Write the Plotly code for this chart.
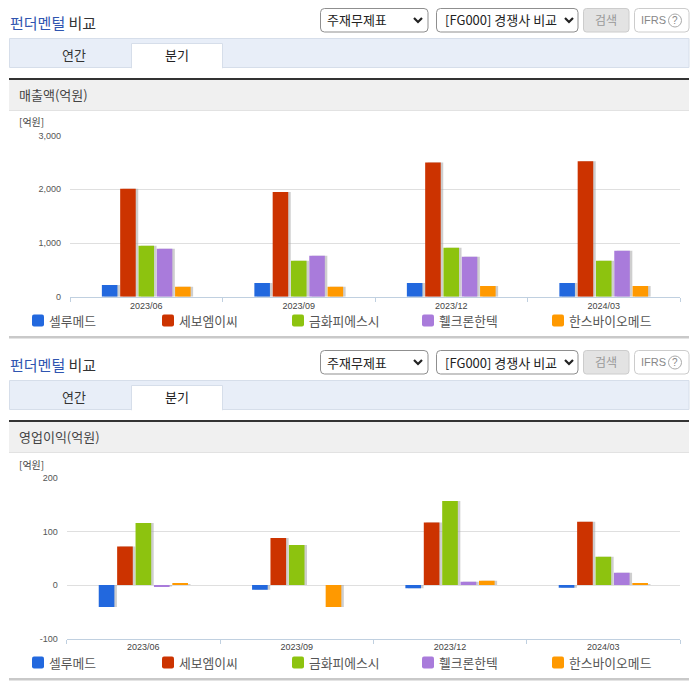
import plotly.graph_objects as go

W, H = 696, 684
FONT = "Noto Sans CJK KR"
LATIN = "Liberation Sans"

periods = ["2023/06", "2023/09", "2023/12", "2024/03"]
companies = ["셀루메드", "세보엠이씨", "금화피에스시", "휄크론한텍", "한스바이오메드"]
colors = ["#2268DE", "#CC3300", "#8DC30F", "#A97BDB", "#FF9900"]

sales_celumed = [220, 255, 255, 255]
sales_sebo = [2010, 1950, 2500, 2520]
sales_kumhwa = [950, 670, 910, 670]
sales_hlb = [895, 765, 745, 855]
sales_hans = [185, 185, 200, 200]

op_celumed = [-41, -9, -6, -5]
op_sebo = [72, 88, 117, 118]
op_kumhwa = [116, 75, 157, 53]
op_hlb = [-3, 0, 6, 23]
op_hans = [2, -41, 8, 2]

sales = [sales_celumed, sales_sebo, sales_kumhwa, sales_hlb, sales_hans]
profit = [op_celumed, op_sebo, op_kumhwa, op_hlb, op_hans]

sales_ticks = [0, 1000, 2000, 3000]
sales_ticktext = ["0", "1,000", "2,000", "3,000"]
profit_ticks = [-100, 0, 100, 200]
profit_ticktext = ["-100", "0", "100", "200"]

fig = go.Figure()
shapes, annotations = [], []


def px(x):
    return x / W


def py(y):
    return 1 - y / H


def rect(x0, y0, x1, y1, fill="rgba(0,0,0,0)", line=None, lw=1):
    shapes.append(dict(type="rect", xref="paper", yref="paper", layer="below",
                       x0=px(x0), x1=px(x1), y0=py(y1), y1=py(y0), fillcolor=fill,
                       line=dict(color=line or "rgba(0,0,0,0)", width=lw if line else 0)))


def rrect(x0, y0, x1, y1, r, fill="rgba(0,0,0,0)", line=None, lw=1):
    p = (f"M {px(x0 + r)} {py(y0)} L {px(x1 - r)} {py(y0)} Q {px(x1)} {py(y0)} {px(x1)} {py(y0 + r)} "
         f"L {px(x1)} {py(y1 - r)} Q {px(x1)} {py(y1)} {px(x1 - r)} {py(y1)} "
         f"L {px(x0 + r)} {py(y1)} Q {px(x0)} {py(y1)} {px(x0)} {py(y1 - r)} "
         f"L {px(x0)} {py(y0 + r)} Q {px(x0)} {py(y0)} {px(x0 + r)} {py(y0)} Z")
    shapes.append(dict(type="path", xref="paper", yref="paper", layer="below", path=p, fillcolor=fill,
                       line=dict(color=line or "rgba(0,0,0,0)", width=lw if line else 0)))


def text(x, y, s, size=12, color="#333333", anchor="left", family=FONT):
    annotations.append(dict(xref="paper", yref="paper", x=px(x), y=py(y), text=s, showarrow=False,
                            xanchor=anchor, yanchor="middle", align=anchor,
                            font=dict(size=size, color=color, family=family),
                            borderpad=0, borderwidth=0))


def chevron(cx, cy):
    p = f"M {px(cx - 4)} {py(cy - 2)} L {px(cx)} {py(cy + 2)} L {px(cx + 4)} {py(cy - 2)}"
    shapes.append(dict(type="path", xref="paper", yref="paper", layer="below", path=p,
                       line=dict(color="#222222", width=2.2)))


def chrome(dy, heading, unit_y):
    text(10, 23 + dy, '<span style="color:#2F55B0">펀더멘털</span> 비교', 15, "#333333")
    rrect(320.5, 8.5 + dy, 428, 32 + dy, 4, "#FFFFFF", "#8F8F8F")
    text(327, 20 + dy, "주재무제표", 13, "#222222")
    chevron(418, 20 + dy)
    rrect(436.5, 8.5 + dy, 578, 32 + dy, 4, "#FFFFFF", "#8F8F8F")
    text(445, 20 + dy, "[FG000] 경쟁사 비교", 13, "#222222")
    chevron(569, 20 + dy)
    rrect(583.5, 8.5 + dy, 629, 32 + dy, 3, "#E3E3E3", "#CCCCCC")
    text(606, 19 + dy, "검색", 12, "#999999", "center")
    rrect(634.5, 8.5 + dy, 689, 32 + dy, 4, "#FFFFFF", "#CCCCCC")
    text(641, 20 + dy, "IFRS", 11, "#888888", family=LATIN)
    shapes.append(dict(type="circle", xref="paper", yref="paper", layer="below",
                       x0=px(668.5), x1=px(681.5), y0=py(27 + dy), y1=py(14 + dy),
                       line=dict(color="#AAAAAA", width=1)))
    text(675, 20.5 + dy, "?", 10, "#888888", "center", LATIN)

    rect(9.5, 38.5 + dy, 689, 67.5 + dy, "#E8EEF8", "#D6DEEA")
    rect(131.5, 43.5 + dy, 222.5, 68 + dy, "#FFFFFF", "#D6DEEA")
    rect(132, 66 + dy, 222, 69 + dy, "#FFFFFF")
    text(74, 54 + dy, "연간", 13, "#333333", "center")
    text(177, 54 + dy, "분기", 13, "#222222", "center")

    rect(9, 80 + dy, 689, 110 + dy, "#F0F0F0")
    rect(9, 110 + dy, 689, 111 + dy, "#E2E2E2")
    rect(9, 78 + dy, 689, 80 + dy, "#333333")
    text(19, 95 + dy, heading, 13, "#444444")
    text(19, unit_y, "[억원]", 10, "#444444")

    for i, name in enumerate(companies):
        x0 = 32 + i * 130
        rrect(x0, 314.5 + dy, x0 + 12, 326.5 + dy, 2, colors[i])
        text(x0 + 17, 320 + dy, name, 12.8, "#555555")
    rect(9, 336 + dy, 689, 338.5 + dy, "#C9C9C9")


def chart(series, index, left, right, top, bottom, yrange, ticks, ticktext):
    base = 3 * index + 1
    names = [base, base + 1, base + 2]
    dom_x = [px(left), px(right)]
    yid = f"yaxis{base}" if base > 1 else "yaxis"
    ykey = f"y{base}" if base > 1 else "y"
    xkey = f"x{base}" if base > 1 else "x"
    dom_y = [py(bottom), py(top)]
    common = dict(type="category", categoryorder="array", categoryarray=periods)
    # the overlay axis inherits the domain, so the shadow offset is expressed by its range
    shift = 2.5 * 4 / (right - left)
    layout = {
        (f"xaxis{base}" if base > 1 else "xaxis"): dict(
            domain=dom_x, anchor=ykey, range=[-0.5, 3.5], tickson="boundaries", ticks="outside", ticklen=4,
            tickcolor="#C0D0E0", tickwidth=1, showline=True, linecolor="#C0D0E0", linewidth=1,
            showgrid=False, zeroline=False, ticklabelstandoff=0,
            tickfont=dict(size=9, family=LATIN, color="#444444"), **common),
        yid: dict(domain=dom_y, anchor=xkey, range=yrange,
                  tickvals=ticks, ticktext=ticktext, showgrid=True, gridcolor="#DFDFDF", gridwidth=1,
                  zeroline=False, showline=False, ticks="", ticklabelstandoff=8,
                  tickfont=dict(size=9, family=LATIN, color="#555555")),
        f"xaxis{names[1]}": dict(overlaying=xkey, anchor=ykey, visible=False,
                                 range=[-0.5 - shift, 3.5 - shift], **common),
        f"xaxis{names[2]}": dict(overlaying=xkey, anchor=ykey, visible=False,
                                 range=[-0.5, 3.5], **common),
    }
    fig.update_layout(**layout)
    fig.add_trace(go.Bar(x=periods, y=[None] * 4, xaxis=xkey, yaxis=ykey,
                         showlegend=False, hoverinfo="skip"))
    for vals in series:
        fig.add_trace(go.Bar(x=periods, y=vals, xaxis=f"x{names[1]}", yaxis=ykey, showlegend=False,
                             marker=dict(color="rgba(165,165,165,0.55)", line=dict(width=0)),
                             hoverinfo="skip"))
    for name, vals, c in zip(companies, series, colors):
        fig.add_trace(go.Bar(x=periods, y=vals, name=name, xaxis=f"x{names[2]}", yaxis=ykey,
                             showlegend=False, marker=dict(color=c, line=dict(width=0))))


chrome(0, "매출액(억원)", 122)
chrome(342, "영업이익(억원)", 464)
chart(sales, 0, 70, 680, 135.5, 296.8, [0, 3000], sales_ticks, sales_ticktext)
chart(profit, 1, 66.7, 680, 478, 638.5, [-100, 200], profit_ticks, profit_ticktext)

fig.update_layout(width=W, height=H, margin=dict(l=0, r=0, t=0, b=0, pad=0, autoexpand=False), autosize=False,
                  paper_bgcolor="#FFFFFF", plot_bgcolor="rgba(0,0,0,0)", showlegend=False,
                  barmode="group", bargap=0.4, bargroupgap=0.15,
                  font=dict(family=FONT), shapes=shapes, annotations=annotations)

fig.write_html("out.html", config={"displayModeBar": False},
               post_script="document.body.style.margin='0';document.documentElement.style.overflow='hidden';")
